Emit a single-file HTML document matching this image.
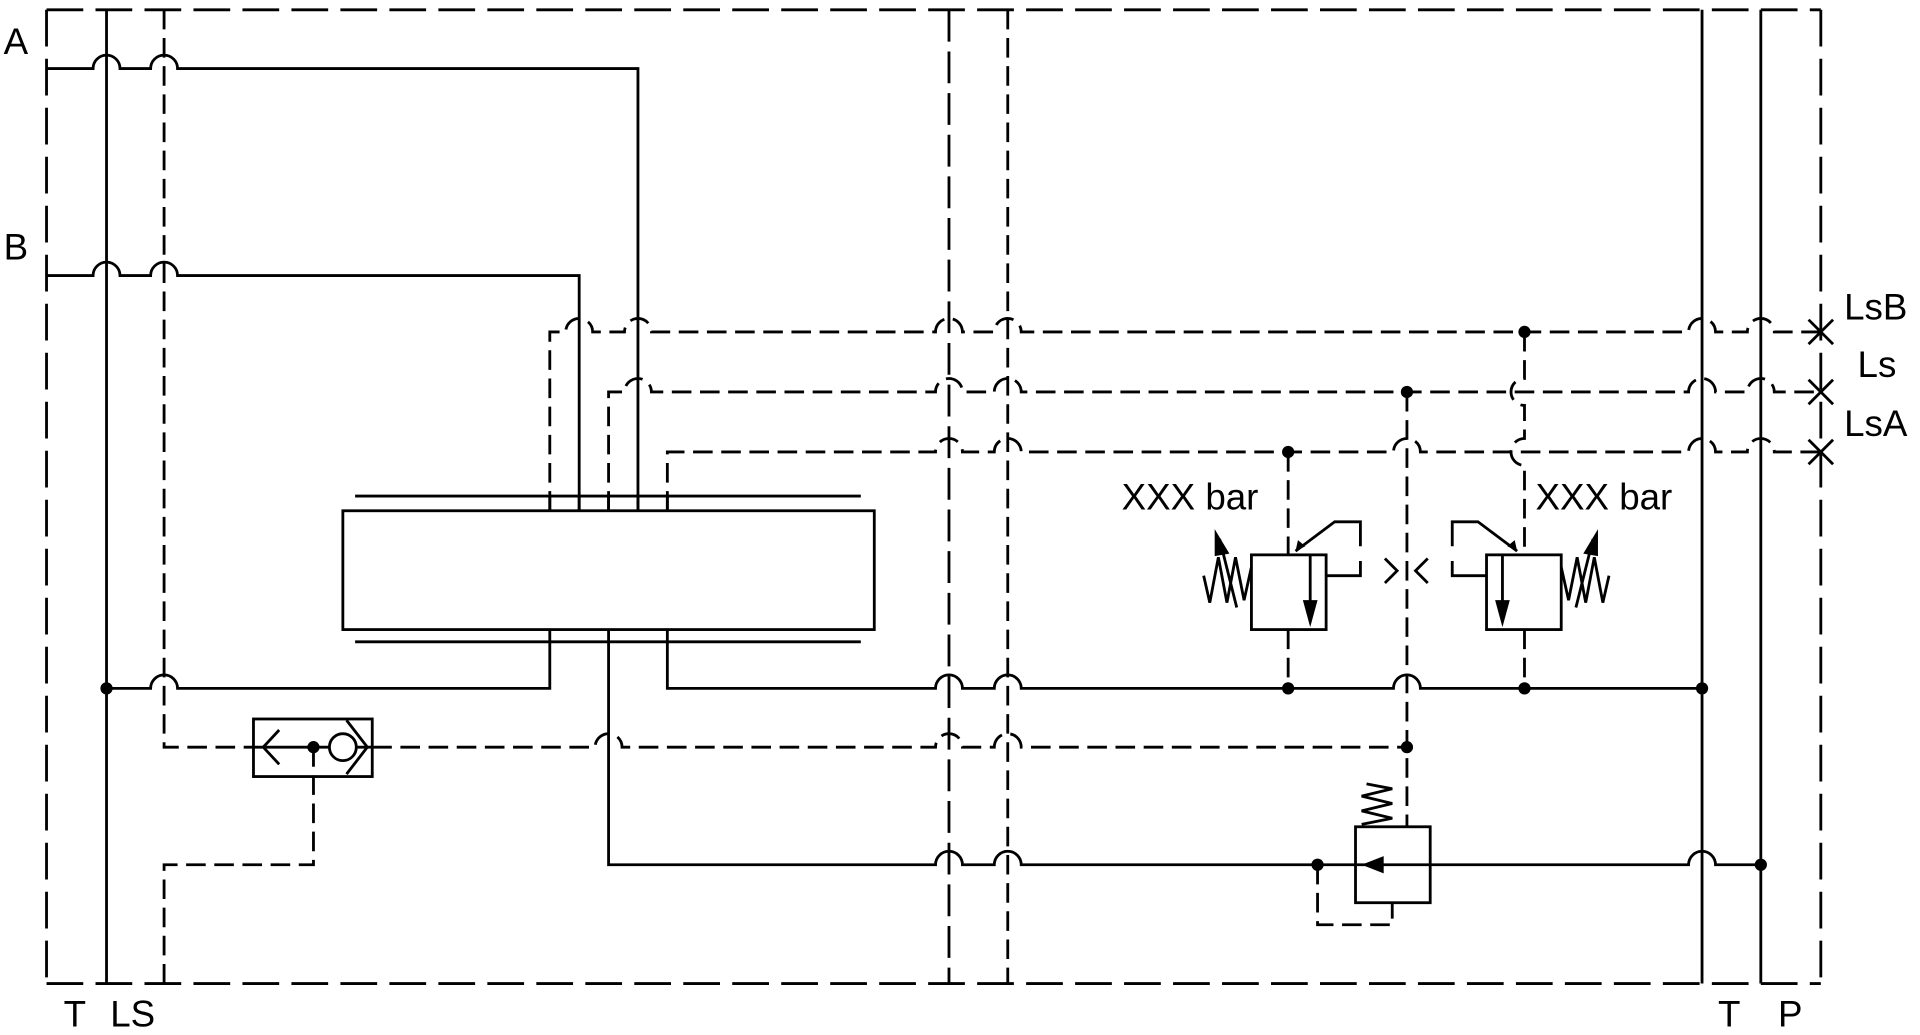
<!DOCTYPE html>
<html><head><meta charset="utf-8"><style>
html,body{margin:0;padding:0;background:#fff;overflow:hidden}
svg{display:block}
text{font-family:"Liberation Sans",sans-serif;font-size:30px;fill:#000}
</style></head><body>
<svg width="1920" height="1035" viewBox="0 0 1568 845" preserveAspectRatio="none" xmlns="http://www.w3.org/2000/svg">
<g fill="none" stroke="#000" stroke-width="2.3">
<g stroke-dasharray="30,10">
<path d="M38 8 H1487 M38 803 H1487 M38 8 V803 M1487 8 V803"/>
</g>
<path d="M87 8 V803 M1390 8 V803 M1438 8 V803"/>
<path d="M775 8 V803" stroke-dasharray="26,8"/>
<path d="M823 8 V803" stroke-dasharray="16,7"/>
<path d="M38 56 H76 A11 11 0 0 1 98 56 H123 A11 11 0 0 1 145 56 H521 V417"/>
<path d="M38 225 H76 A11 11 0 0 1 98 225 H123 A11 11 0 0 1 145 225 H473 V417"/>
<g stroke-dasharray="16,7">
<path d="M134 8 V610 H207"/>
<path d="M449 417 V271 H462 A11 11 0 0 1 484 271 H510 A11 11 0 0 1 532 271 H764 A11 11 0 0 1 786 271 H812 A11 11 0 0 1 834 271 H1379 A11 11 0 0 1 1401 271 H1427 A11 11 0 0 1 1449 271 H1487"/>
<path d="M497 417 V320 H510 A11 11 0 0 1 532 320 H764 A11 11 0 0 1 786 320 H812 A11 11 0 0 1 834 320 H1379 A11 11 0 0 1 1401 320 H1427 A11 11 0 0 1 1449 320 H1487"/>
<path d="M545 417 V369 H764 A11 11 0 0 1 786 369 H812 A11 11 0 0 1 834 369 H1138 A11 11 0 0 1 1160 369 H1379 A11 11 0 0 1 1401 369 H1427 A11 11 0 0 1 1449 369 H1487"/>
<path d="M1245 271 V309 A11 11 0 0 0 1245 331 V358 A11 11 0 0 0 1245 380 V453"/>
<path d="M1149 320 V675"/>
<path d="M1052 369 V453 M1052 514 V562 M1245 514 V562"/>
<path d="M304 610 H486 A11 11 0 0 1 508 610 H764 A11 11 0 0 1 786 610 H812 A11 11 0 0 1 834 610 H1149"/>
<path d="M256 610 V706 H134 V803"/>
<path d="M1076 706 V755 H1137 V737"/>
</g>
<path d="M1083 470 H1111 V458 M1111 446 V426 H1090 L1058 450"/>
<path d="M1214 470 H1186 V458 M1186 446 V426 H1207 L1239 450"/>
<rect x="280" y="417" width="434" height="97"/>
<path d="M290 405 H703 M290 524 H703"/>
<path d="M449 405 V417 M473 405 V417 M497 405 V417 M521 405 V417 M545 405 V417"/>
<path d="M449 514 V562 H145 A11 11 0 0 0 123 562 H87"/>
<path d="M545 514 V562 H764 A11 11 0 0 1 786 562 H812 A11 11 0 0 1 834 562 H1138 A11 11 0 0 1 1160 562 H1390"/>
<path d="M497 514 V706 H764 A11 11 0 0 1 786 706 H812 A11 11 0 0 1 834 706 H1107"/>
<path d="M1168 706 H1379 A11 11 0 0 1 1401 706 H1438"/>
<rect x="207" y="587" width="97" height="47"/>
<path d="M207 610 H304"/>
<path d="M228 596 L215 610 L228 624"/>
<circle cx="280" cy="610" r="11" fill="#fff"/>
<path d="M283 588 L300 610 L283 632"/>
<rect x="1107" y="675" width="61" height="62"/>
<path d="M1107 706 H1168"/>
<path d="M1112 673 L1137 668 L1112 662 L1137 656 L1112 650 L1137 644 L1116 640"/>
<rect x="1022" y="453" width="61" height="61"/>
<path d="M1070 453 V494"/>
<path d="M1022 463 L1016 490 L1009 455 L1002 492 L995 455 L988 492 L983 470"/>
<path d="M1010 496 L996 440"/>
<g transform="translate(2297,0) scale(-1,1)">
<rect x="1022" y="453" width="61" height="61"/>
<path d="M1070 453 V494"/>
<path d="M1022 463 L1016 490 L1009 455 L1002 492 L995 455 L988 492 L983 470"/>
<path d="M1010 496 L996 440"/>
</g>
<path d="M1131 456 L1141 466 L1131 476 M1166 456 L1156 466 L1166 476"/>
<path d="M1477 261 L1497 281 M1497 261 L1477 281 M1477 310 L1497 330 M1497 310 L1477 330 M1477 359 L1497 379 M1497 359 L1477 379"/>
</g>
<g fill="#000">
<polygon points="1064,490 1076,490 1070,512"/>
<polygon points="1058,450 1060,441 1066,446"/>
<polygon points="992,432 1004,452 992,454"/>
<g transform="translate(2297,0) scale(-1,1)">
<polygon points="1064,490 1076,490 1070,512"/>
<polygon points="1058,450 1060,441 1066,446"/>
<polygon points="992,432 1004,452 992,454"/>
</g>
<polygon points="1112,706 1130,699 1130,713"/>
<circle cx="87" cy="562" r="5"/>
<circle cx="256" cy="610" r="5"/>
<circle cx="1052" cy="369" r="5"/>
<circle cx="1149" cy="320" r="5"/>
<circle cx="1245" cy="271" r="5"/>
<circle cx="1052" cy="562" r="5"/>
<circle cx="1245" cy="562" r="5"/>
<circle cx="1390" cy="562" r="5"/>
<circle cx="1149" cy="610" r="5"/>
<circle cx="1076" cy="706" r="5"/>
<circle cx="1438" cy="706" r="5"/>
</g>
<text x="3" y="44">A</text>
<text x="3" y="212">B</text>
<text x="52" y="838">T</text>
<text x="90" y="838">LS</text>
<text x="1403" y="838">T</text>
<text x="1452" y="838">P</text>
<text x="1506" y="261">LsB</text>
<text x="1517" y="308">Ls</text>
<text x="1506" y="356">LsA</text>
<text x="916" y="416">XXX bar</text>
<text x="1254" y="416">XXX bar</text>
</svg>
</body></html>
